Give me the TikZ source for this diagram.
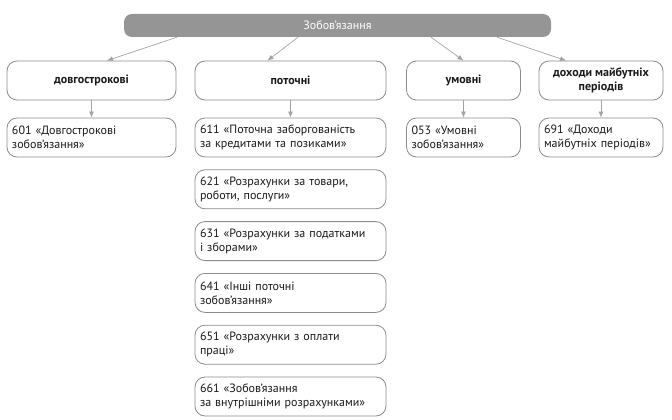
\documentclass[tikz,border=0pt]{standalone}
\usepackage{fontspec}
\setmainfont{PT Sans}
\usetikzlibrary{arrows.meta,positioning}
\definecolor{cHead}{HTML}{959595}
\definecolor{cLine}{HTML}{8C8C8C}
\definecolor{cArrow}{HTML}{A3A3A3}
\definecolor{cInk}{HTML}{1A1A1A}

\begin{document}
\begin{tikzpicture}[
  x=1pt,y=-1pt,
  font=\fontsize{12}{14}\selectfont,
  >={Latex[length=6pt,width=5pt]},
  node distance=12pt,
  head/.style={fill=cHead,rounded corners=8pt,text=white,minimum width=427pt,
               minimum height=23pt,inner sep=0pt},
  kind/.style={draw=cLine,line width=0.8pt,rounded corners=10pt,fill=white,align=center,
               minimum height=39pt,inner sep=3pt,text=cInk,
               font=\fontsize{12}{14}\selectfont\bfseries},
  acct/.style={draw=cLine,line width=0.8pt,rounded corners=10pt,fill=white,align=left,
               minimum height=39pt,inner xsep=5pt,inner ysep=2pt,text=cInk},
  link/.style={->,draw=cArrow,line width=0.7pt}
]
\useasboundingbox (0,0) rectangle (672,420);

\node[head] (top) at (337.5,25.5) {Зобов’язання};

\node[kind,minimum width=169pt] (dovg) at (91.5,80.5) {довгострокові};
\node[kind,minimum width=191pt] (potoch) at (290.5,80.5) {поточні};
\node[kind,minimum width=114pt] (umovni) at (463.5,80.5) {умовні};
\node[kind,minimum width=124pt] (dokhody) at (601,80.5) {доходи майбутніх\\періодів};

\node[acct,text width=159pt] (a601) at (91.5,137.5) {601 «Довгострокові\\зобов’язання»};
\node[acct,text width=181pt] (a611) at (290.5,137.5) {611 «Поточна заборгованість\\за кредитами та позиками»};
\node[acct,text width=181pt,below=of a611] (a621) {621 «Розрахунки за товари,\\роботи, послуги»};
\node[acct,text width=181pt,below=of a621] (a631) {631 «Розрахунки за податками\\і зборами»};
\node[acct,text width=181pt,below=of a631] (a641) {641 «Інші поточні\\зобов’язання»};
\node[acct,text width=181pt,below=of a641] (a651) {651 «Розрахунки з оплати\\праці»};
\node[acct,text width=181pt,below=of a651] (a661) {661 «Зобов’язання\\за внутрішніми розрахунками»};
\node[acct,text width=104pt] (a053) at (463.5,137.5) {053 «Умовні\\зобов’язання»};
\node[acct,text width=114pt] (a691) at (601,137.5) {691 «Доходи\\майбутніх періодів»};

% from the head to the four kinds
\draw[link] ([xshift=-160.5pt]top.south) -- ([xshift=15.5pt]dovg.north);
\draw[link] ([xshift=-39.5pt]top.south) -- ([xshift=-23pt]potoch.north);
\draw[link] ([xshift=93.5pt]top.south) -- (umovni.north);
\draw[link] ([xshift=159.5pt]top.south) -- ([xshift=-35pt]dokhody.north);

% kinds to accounts
\draw[link] (dovg) -- (a601);
\draw[link] (potoch) -- (a611);
\draw[link] (umovni) -- (a053);
\draw[link] (dokhody) -- (a691);

\end{tikzpicture}
\end{document}
